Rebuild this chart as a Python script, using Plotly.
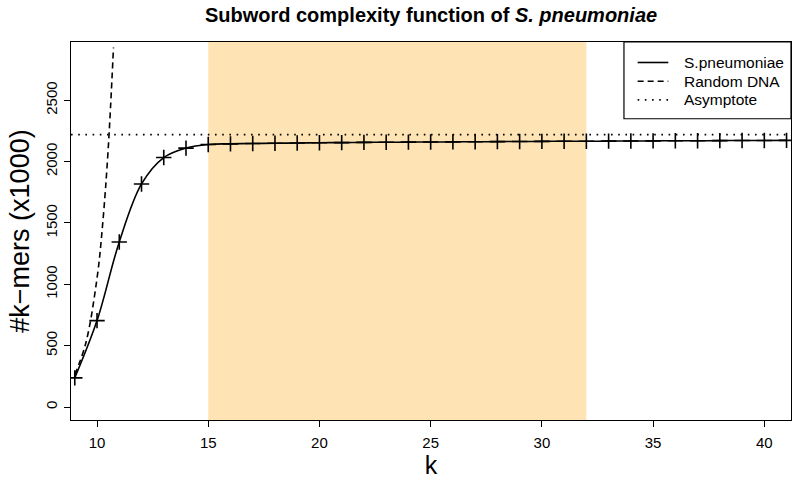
import plotly.graph_objects as go

# ---- data ----
k_values = list(range(9, 42))
spn_kmers = [237, 704, 1345, 1818, 2033, 2110, 2140, 2145, 2148, 2150, 2152,
             2154, 2155, 2157, 2158, 2159, 2160, 2161, 2162, 2163, 2164, 2165,
             2166, 2166, 2167, 2168, 2169, 2170, 2170, 2171, 2172, 2172, 2173]
random_k = [9, 9.5, 10, 10.25, 10.5, 10.74]
random_kmers = [262, 524, 1049, 1483, 2097, 2930]
asymptote = 2220
shade_range = [15, 32]
x_range = [8.83, 41.2]
y_range = [-106, 2975]
x_ticks = [10, 15, 20, 25, 30, 35, 40]
y_ticks = [0, 500, 1000, 1500, 2000, 2500]
legend_labels = ["S.pneumoniae", "Random DNA", "Asymptote"]

FONT = "Liberation Sans, Arial, Helvetica, sans-serif"
LW = 1.6
DASH_RANDOM = "6px,4px"
DASH_ASYM = "1.6px,5.6px"

fig = go.Figure()

fig.add_shape(type="rect", xref="x", yref="paper",
              x0=shade_range[0], x1=shade_range[1], y0=0, y1=1,
              fillcolor="#FEE4B5", line_width=0, layer="below")

fig.add_trace(go.Scatter(
    x=k_values, y=spn_kmers, name=legend_labels[0],
    mode="lines", line=dict(color="black", width=LW, shape="spline"),
))
fig.add_trace(go.Scatter(
    x=k_values, y=spn_kmers, name="points",
    mode="markers",
    marker=dict(symbol="cross-thin", size=11, line=dict(color="black", width=LW)),
))
fig.add_trace(go.Scatter(
    x=random_k, y=random_kmers, name=legend_labels[1],
    mode="lines", line=dict(color="black", width=LW, dash=DASH_RANDOM, shape="spline"),
))
fig.add_trace(go.Scatter(
    x=x_range, y=[asymptote, asymptote], name=legend_labels[2],
    mode="lines", line=dict(color="black", width=LW, dash=DASH_ASYM),
))

# ---- manual legend (R-style box) ----
fig.add_shape(type="rect", xref="paper", yref="paper",
              x0=0.768, x1=1.0, y0=0.797, y1=1.0,
              fillcolor="white", line=dict(color="black", width=1.2), layer="above")
row_y = [0.9458, 0.896, 0.847]
row_dash = ["solid", DASH_RANDOM, DASH_ASYM]
for lab, yy, dsh in zip(legend_labels, row_y, row_dash):
    fig.add_shape(type="line", xref="paper", yref="paper",
                  x0=0.787, x1=0.8296, y0=yy, y1=yy,
                  line=dict(color="black", width=LW, dash=dsh), layer="above")
    fig.add_annotation(xref="paper", yref="paper", x=0.848, y=yy,
                       xanchor="left", yanchor="middle", text=lab, showarrow=False,
                       font=dict(family=FONT, size=15.5, color="black"))

axis_common = dict(
    showline=True, linecolor="black", linewidth=1.2, mirror=True,
    ticks="outside", ticklen=6, tickwidth=1.2, tickcolor="black",
    showgrid=False, zeroline=False, automargin=False,
    tickfont=dict(family=FONT, size=15, color="black"),
)

fig.update_layout(
    width=800, height=483,
    margin=dict(l=71, r=9, t=42, b=63, autoexpand=False),
    paper_bgcolor="white", plot_bgcolor="white",
    font=dict(family=FONT, color="black"),
    showlegend=False,
    title=dict(text="<b>Subword complexity function of <i>S. pneumoniae</i></b>",
               x=0.5, xref="paper", xanchor="center", y=0.968, yanchor="middle",
               font=dict(family=FONT, size=20, color="black")),
    xaxis=dict(range=x_range, tickvals=x_ticks, ticklabelstandoff=3,
               title=dict(text="k", font=dict(family=FONT, size=25), standoff=5),
               **axis_common),
    yaxis=dict(range=y_range, tickvals=y_ticks, tickangle=-90,
               title=dict(text="#k\u2212mers (x1000)", font=dict(family=FONT, size=27), standoff=5),
               ticklabelstandoff=1,
               **axis_common),
)

fig.write_html("out.html", config={"displayModeBar": False},
               post_script="document.body.style.margin='0';document.body.style.padding='0';")
